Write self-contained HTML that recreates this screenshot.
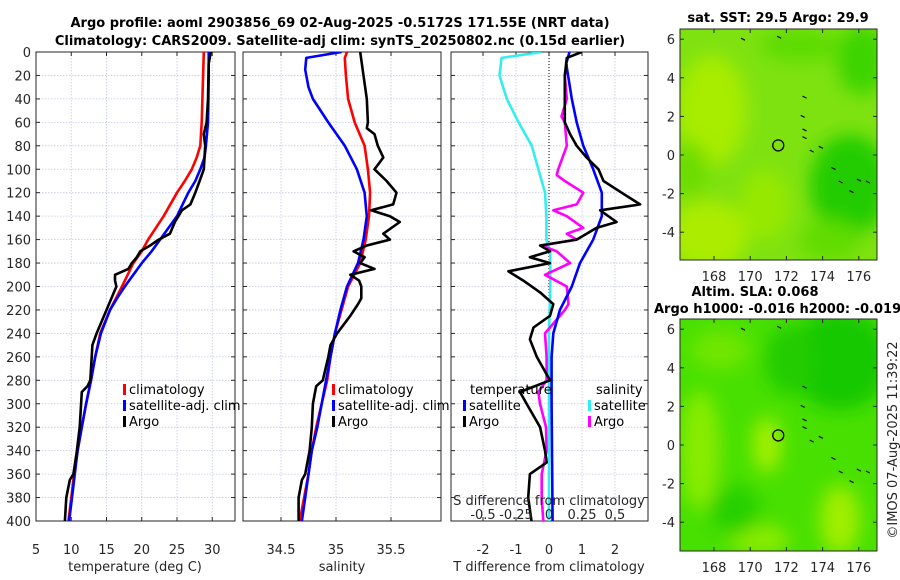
<!DOCTYPE html>
<html><head><meta charset="utf-8"><style>
html,body{margin:0;padding:0;background:#fff;}
svg{display:block;font-family:"DejaVu Sans","Liberation Sans",sans-serif;}
.tk{font-size:13px;fill:#262626;}
.tt{font-size:13px;font-weight:bold;fill:#000;}
.lg{font-size:13px;fill:#000;}
</style></head><body>
<svg id="chart" width="900" height="580" viewBox="0 0 900 580">
<defs>
<filter id="bl" x="-50%" y="-50%" width="200%" height="200%"><feGaussianBlur stdDeviation="9"/></filter>
<clipPath id="c1"><rect x="36" y="52" width="199" height="470"/></clipPath>
<clipPath id="c2"><rect x="243" y="52" width="198" height="470"/></clipPath>
<clipPath id="c3"><rect x="451" y="52" width="197" height="470"/></clipPath>
<clipPath id="m1"><rect x="680" y="29" width="197" height="231"/></clipPath>
<clipPath id="m2"><rect x="680" y="319" width="197" height="232"/></clipPath>
</defs>
<text class="tt" x="340" y="27" text-anchor="middle">Argo profile: aoml 2903856_69 02-Aug-2025 -0.5172S 171.55E (NRT data)</text>
<text class="tt" x="340" y="45" text-anchor="middle">Climatology: CARS2009. Satellite-adj clim: synTS_20250802.nc (0.15d earlier)</text>

<g>
<g clip-path="url(#m1)">
<rect x="680" y="29" width="197" height="231" fill="#7ee210"/>
<g filter="url(#bl)">
<ellipse cx="712" cy="110" rx="35" ry="55" fill="#a8ec00"/>
<ellipse cx="708" cy="235" rx="40" ry="35" fill="#acec00"/>
<ellipse cx="765" cy="205" rx="25" ry="35" fill="#96e800"/>
<ellipse cx="850" cy="185" rx="40" ry="50" fill="#20cc00"/>
<ellipse cx="862" cy="60" rx="25" ry="35" fill="#3cd400"/>
<ellipse cx="800" cy="45" rx="40" ry="16" fill="#5cdc00"/>
<ellipse cx="690" cy="170" rx="18" ry="28" fill="#6cdc00"/>
<ellipse cx="830" cy="240" rx="30" ry="20" fill="#60dc00"/>
</g>
</g>
<rect x="680" y="29" width="197" height="231" fill="none" stroke="#262626" stroke-width="1"/>
</g>
<g>
<g clip-path="url(#m2)">
<rect x="680" y="319" width="197" height="232" fill="#48e000"/>
<g filter="url(#bl)">
<ellipse cx="840" cy="360" rx="50" ry="50" fill="#18c800"/>
<ellipse cx="790" cy="360" rx="25" ry="35" fill="#20cc00"/>
<ellipse cx="767" cy="445" rx="14" ry="28" fill="#a6f000"/>
<ellipse cx="700" cy="450" rx="20" ry="60" fill="#88ec00"/>
<ellipse cx="840" cy="520" rx="20" ry="35" fill="#a0ee00"/>
<ellipse cx="720" cy="350" rx="30" ry="20" fill="#70e600"/>
<ellipse cx="760" cy="540" rx="30" ry="15" fill="#8cec00"/>
<ellipse cx="735" cy="510" rx="25" ry="25" fill="#28d000"/>
</g>
</g>
<rect x="680" y="319" width="197" height="232" fill="none" stroke="#262626" stroke-width="1"/>
</g>

<g id="axes"></g>
<g id="maptx"></g>

<text class="tt" x="778" y="22" text-anchor="middle">sat. SST: 29.5 Argo: 29.9</text>
<text class="tt" x="755" y="296" text-anchor="middle">Altim. SLA: 0.068</text>
<text class="tt" x="654" y="313">Argo h1000: -0.016 h2000: -0.019</text>
<text class="tk" x="0" y="0" transform="translate(897,440) rotate(-90)" text-anchor="middle">©IMOS 07-Aug-2025 11:39:22</text>
</svg>
<script>
// depth/value arrays
const tClimD=[0,20,40,60,80,90,100,110,120,140,160,170,180,200,220,240,260,280,300,320,340,360,380,400];
const tClimV=[28.8,28.7,28.6,28.5,28.3,27.8,27.1,26.1,25.0,23.1,20.9,20.0,18.8,17.2,15.5,14.1,13.4,12.8,12.1,11.5,10.9,10.4,10.0,9.6];
const tSatD=[0,20,40,60,80,90,100,110,120,130,140,150,160,170,180,190,200,210,220,240,260,280,300,320,340,360,380,400];
const tSatV=[29.5,29.5,29.45,29.4,29.1,28.9,28.3,27.6,26.6,25.8,25.0,23.8,22.6,21.4,20.0,18.8,17.6,16.5,15.5,14.2,13.4,12.8,12.1,11.5,10.9,10.5,10.1,9.7];
const tArgoD=[0,10,40,60,70,80,100,110,120,130,135,145,155,160,165,170,175,180,185,190,195,200,220,240,250,260,280,285,290,300,320,340,360,365,380,400];
const tArgoV=[29.8,29.5,29.4,29.2,28.8,29.0,28.8,28.2,27.6,26.9,25.7,24.7,24.0,22.4,21.2,19.8,19.3,18.6,18.1,16.2,16.2,16.4,15.0,13.6,13.0,12.9,12.7,12.3,11.5,11.4,11.2,10.8,10.3,9.8,9.3,9.1];
const sClimD=[0,5,20,40,60,80,100,120,140,160,180,200,220,240,260,280,300,320,340,360,380,400];
const sClimV=[35.10,35.08,35.09,35.11,35.17,35.26,35.29,35.31,35.30,35.27,35.22,35.11,35.05,34.99,34.95,34.92,34.87,34.82,34.78,34.75,34.71,34.67];
const sSatD=[0,5,15,30,40,60,80,100,120,140,160,180,200,220,240,260,280,300,320,340,360,380,400];
const sSatV=[35.05,34.73,34.72,34.75,34.79,34.93,35.08,35.19,35.26,35.28,35.25,35.20,35.10,35.04,34.99,34.95,34.91,34.87,34.83,34.78,34.75,34.72,34.69];
const sArgoD=[0,20,40,60,65,70,80,90,100,110,120,130,135,140,145,155,160,165,170,175,180,185,190,195,200,210,215,225,240,250,260,280,285,290,300,320,340,360,365,380,400];
const sArgoV=[35.22,35.25,35.28,35.29,35.28,35.35,35.38,35.43,35.35,35.46,35.55,35.52,35.32,35.49,35.58,35.43,35.49,35.28,35.16,35.26,35.22,35.35,35.13,35.21,35.23,35.23,35.20,35.13,35.01,34.95,34.93,34.88,34.82,34.81,34.79,34.78,34.76,34.72,34.69,34.66,34.66];
const dTSatD=[0,10,40,60,80,100,120,140,160,180,200,220,240,260,300,400];
const dTSatV=[0.62,0.52,0.69,0.84,1.04,1.34,1.6,1.6,1.34,0.94,0.69,0.33,0.13,0.08,0.08,0.11];
const dTArgoD=[0,5,20,60,70,80,90,100,110,120,130,135,145,150,160,165,170,175,180,187,195,205,215,225,235,245,260,280,290,300,320,340,350,360,380,400];
const dTArgoV=[0.99,0.54,0.48,0.48,0.64,0.84,1.14,1.5,1.65,2.2,2.76,1.55,2.05,1.44,0.84,-0.27,0.03,-0.58,0.03,-1.23,-0.78,-0.27,0.13,0.03,-0.47,-0.58,-0.37,0.03,-0.88,-0.68,-0.27,-0.12,-0.07,-0.58,-0.63,-0.53];
const dSSatD=[0,5,20,40,60,80,100,120,140,160,170,200,240,300,400];
const dSSatV=[-0.055,-0.36,-0.375,-0.32,-0.23,-0.13,-0.08,-0.03,-0.02,-0.02,0.01,0.01,0.0,0.0,0.0];
const dSArgoD=[10,20,40,55,60,80,100,105,110,120,130,135,140,150,155,160,165,170,180,190,200,215,220,240,260,280,290,300,320,340,360,380,400];
const dSArgoV=[0.135,0.12,0.135,0.095,0.12,0.135,0.07,0.058,0.12,0.26,0.21,0.033,0.135,0.26,0.135,0.21,-0.055,0.058,0.16,-0.03,0.135,0.148,0.12,-0.03,-0.018,-0.018,-0.08,-0.068,-0.023,-0.018,-0.055,-0.055,-0.043];
const depthTicks=[0,20,40,60,80,100,120,140,160,180,200,220,240,260,280,300,320,340,360,380,400];
const tTicks=[5,10,15,20,25,30];
const sTicks=[34.5,35,35.5];
const dTTicks=[-2,-1,0,1,2];
const dSTicks=[-0.5,-0.25,0,0.25,0.5];
const latTicks=[6,4,2,0,-2,-4];
const lonTicks=[168,170,172,174,176];

const NS='http://www.w3.org/2000/svg';
const root=document.getElementById('axes');
function mk(tag,attrs,parent){const e=document.createElementNS(NS,tag);for(const k in attrs)e.setAttribute(k,attrs[k]);(parent||root).appendChild(e);return e;}
const yD=d=>52+d*1.1725;
const x1=v=>36+(v-5)*7.05;
const x2=v=>281+(v-34.5)*110;
const x3=v=>549+v*33;
const xS=v=>549+v*4*33;

function panel(name,L,R,xf,ticks,lab){
  const g=mk('g',{});
  
  
  depthTicks.forEach(d=>{
    const l=mk('line',{x1:L,x2:R,y1:yD(d),y2:yD(d),stroke:'#c4c8e0','stroke-width':0.8,'stroke-dasharray':'1.5,1.5'},g);
    
    
    mk('line',{x1:L,x2:L+4,y1:yD(d),y2:yD(d),stroke:'#262626'},g);
    mk('line',{x1:R-4,x2:R,y1:yD(d),y2:yD(d),stroke:'#262626'},g);
  });
  ticks.forEach(v=>{
    const x=xf(v);
    const l=mk('line',{x1:x,x2:x,y1:52,y2:521,stroke:'#c4c8e0','stroke-width':0.8,'stroke-dasharray':'1.5,1.5'},g);
    
    
    mk('line',{x1:x,x2:x,y1:521,y2:517,stroke:'#262626'},g);
    mk('line',{x1:x,x2:x,y1:52,y2:56,stroke:'#262626'},g);
    const t=mk('text',{x:x,y:554,'text-anchor':'middle',class:'tk'},g);
    t.textContent=lab(v);
    
    
  });
  mk('rect',{x:L,y:52,width:R-L,height:469,fill:'none',stroke:'#262626','stroke-width':1},g);
  return g;
}
function line(D,V,xf,color,clip,name){
  const pts=D.map((d,i)=>xf(V[i]).toFixed(1)+','+yD(d).toFixed(1)).join(' ');
  const p=mk('polyline',{points:pts,fill:'none',stroke:color,'stroke-width':2.6,'stroke-linejoin':'round','clip-path':clip});
  
  
}
function txt(x,y,s,name,anchor,cls){const t=mk('text',{x:x,y:y,'text-anchor':anchor||'start',class:cls||'tk'});t.textContent=s;return t;}

panel('temperature-panel',36,235,x1,tTicks,v=>String(v));
panel('salinity-panel',243,441,x2,sTicks,v=>String(v));
panel('difference-panel',451,648,x3,dTTicks,v=>String(v));
depthTicks.forEach(d=>{txt(31,yD(d)+5,String(d),'depth-tick-label','end');});
mk('line',{x1:549,x2:549,y1:52,y2:521,stroke:'#000','stroke-width':1,'stroke-dasharray':'1,2'});

line(tClimD,tClimV,x1,'#ff0000','url(#c1)','temperature-climatology-line');
line(tSatD,tSatV,x1,'#0000ff','url(#c1)','temperature-satellite-line');
line(tArgoD,tArgoV,x1,'#000000','url(#c1)','temperature-argo-line');
line(sClimD,sClimV,x2,'#ff0000','url(#c2)','salinity-climatology-line');
line(sSatD,sSatV,x2,'#0000ff','url(#c2)','salinity-satellite-line');
line(sArgoD,sArgoV,x2,'#000000','url(#c2)','salinity-argo-line');
line(dSSatD,dSSatV,xS,'#33eeee','url(#c3)','salinity-diff-satellite-line');
line(dSArgoD,dSArgoV,xS,'#ff00ff','url(#c3)','salinity-diff-argo-line');
line(dTSatD,dTSatV,x3,'#0000ff','url(#c3)','temperature-diff-satellite-line');
line(dTArgoD,dTArgoV,x3,'#000000','url(#c3)','temperature-diff-argo-line');

txt(135,571,'temperature (deg C)','temperature-axis-title','middle');
txt(342,571,'salinity','salinity-axis-title','middle');
txt(549,571,'T difference from climatology','t-diff-axis-title','middle');
txt(549,505,'S difference from climatology','s-diff-axis-title','middle');
dSTicks.forEach(v=>txt(xS(v),519,String(v),'s-diff-tick-label','middle'));

function legend(x,y,items,name){
  const g=mk('g',{});
  
  
  items.forEach((it,i)=>{
    if(it[1]) mk('rect',{x:x,y:y+i*16-10,width:3,height:11,fill:it[1]},g);
    const t=mk('text',{x:x+6,y:y+i*16,class:'lg'},g);t.textContent=it[0];
  });
}
legend(123,394,[['climatology','#ff0000'],['satellite-adj. clim','#0000ff'],['Argo','#000']],'temperature-legend');
legend(332,394,[['climatology','#ff0000'],['satellite-adj. clim','#0000ff'],['Argo','#000']],'salinity-legend');
legend(463,410,[['satellite','#0000ff'],['Argo','#000']],'t-diff-legend');
txt(470,394,'temperature','t-diff-legend-title','start','lg');
legend(588,410,[['satellite','#33eeee'],['Argo','#ff00ff']],'s-diff-legend');
txt(596,394,'salinity','s-diff-legend-title','start','lg');

// maps
const mg=document.getElementById('maptx');
const lonX=v=>714+(v-168)*18.1;
function mapAxes(top,bot,lat0,name){
  const latY=v=>lat0-v*19.3;
  latTicks.forEach(v=>{
    const y=latY(v);
    mk('line',{x1:680,x2:684,y1:y,y2:y,stroke:'#262626'},mg);
    mk('line',{x1:873,x2:877,y1:y,y2:y,stroke:'#262626'},mg);
    const t=mk('text',{x:675,y:y+5,'text-anchor':'end',class:'tk'},mg);t.textContent=String(v);
    
    
  });
  lonTicks.forEach(v=>{
    const x=lonX(v);
    mk('line',{x1:x,x2:x,y1:bot,y2:bot-4,stroke:'#262626'},mg);
    mk('line',{x1:x,x2:x,y1:top,y2:top+4,stroke:'#262626'},mg);
    const t=mk('text',{x:x,y:bot+21,'text-anchor':'middle',class:'tk'},mg);t.textContent=String(v);
    
    
  });
  [[173,3],[172.9,2],[173,1.3],[173,0.9],[173.9,0.4],[173.4,0.2],[174.6,-0.7],[175,-1.4],[176,-1.3],[176.5,-1.4],[169.6,6],[171.6,6.1],[175.6,-1.9]].forEach(p=>{
    mk('line',{x1:lonX(p[0])-2,y1:latY(p[1])-1,x2:lonX(p[0])+2,y2:latY(p[1])+1,stroke:'#000','stroke-width':1.2},mg);
  });
  const c=mk('circle',{cx:lonX(171.55),cy:latY(0.5),r:5.5,fill:'none',stroke:'#000','stroke-width':1.3},mg);
  
  
}
mapAxes(29,260,155,'sst-map');
mapAxes(319,551,445,'sla-map');
</script>
</body></html>
